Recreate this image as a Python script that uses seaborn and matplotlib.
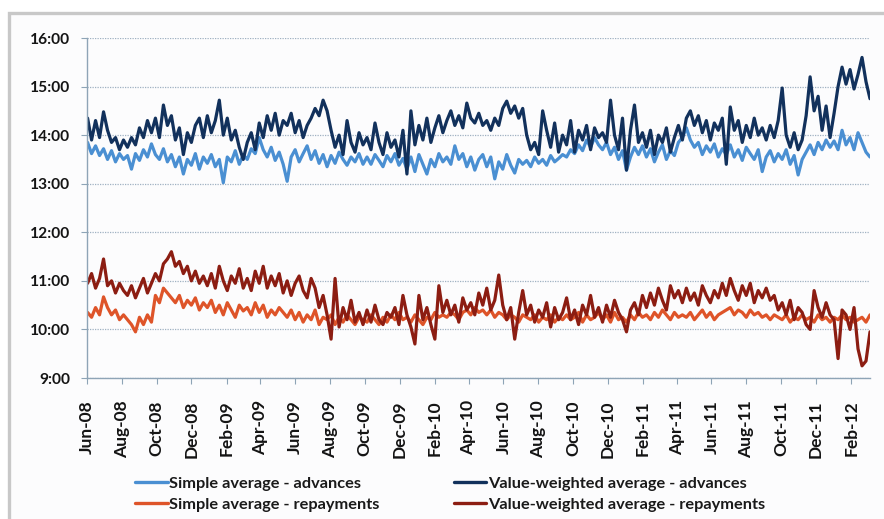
import pandas as pd
import seaborn as sns
import matplotlib.pyplot as plt
import matplotlib.dates as mdates
from matplotlib.patches import Rectangle
from matplotlib.ticker import FuncFormatter

# Weekly readings (hours of the day), Jun-08 .. Mar-12
simple_adv = [
    13.85, 13.62, 13.78, 13.58, 13.72, 13.50, 13.68, 13.45, 13.62, 13.50,
    13.58, 13.30, 13.62, 13.48, 13.70, 13.55, 13.82, 13.60, 13.50, 13.72,
    13.45, 13.60, 13.35, 13.55, 13.20, 13.50, 13.38, 13.62, 13.30, 13.55,
    13.42, 13.60, 13.35, 13.50, 13.02, 13.55, 13.45, 13.68, 13.40, 13.60,
    13.50, 13.72, 13.62, 13.95, 13.70, 13.55, 13.75, 13.48, 13.65, 13.40,
    13.05, 13.55, 13.70, 13.45, 13.62, 13.78, 13.50, 13.68, 13.42, 13.60,
    13.35, 13.58, 13.42, 13.65, 13.50, 13.38, 13.55, 13.45, 13.62, 13.40,
    13.55, 13.40, 13.60, 13.48, 13.35, 13.58, 13.45, 13.62, 13.38, 13.52,
    13.30, 13.55, 13.25, 13.60, 13.40, 13.20, 13.50, 13.35, 13.62, 13.45,
    13.55, 13.40, 13.78, 13.50, 13.62, 13.35, 13.55, 13.28, 13.50, 13.60,
    13.35, 13.55, 13.10, 13.45, 13.30, 13.60, 13.38, 13.22, 13.50, 13.40,
    13.48, 13.35, 13.55, 13.42, 13.50, 13.38, 13.58, 13.45, 13.52, 13.60,
    13.55, 13.70, 13.62, 13.80, 13.68, 13.90, 13.75, 13.95, 13.80, 13.70,
    13.85, 13.60, 13.75, 13.50, 13.68, 13.28, 13.55, 13.75, 13.60, 13.78,
    13.55, 13.72, 13.45, 13.65, 13.80, 13.50, 13.68, 13.58, 13.85, 13.95,
    14.15, 13.90, 13.75, 13.85, 13.60, 13.78, 13.65, 13.82, 13.55, 13.72,
    13.60, 13.80, 13.55, 13.70, 13.48, 13.75, 13.62, 13.50, 13.70, 13.25,
    13.55, 13.68, 13.45, 13.62, 13.50, 13.70, 13.40, 13.58, 13.18, 13.50,
    13.65, 13.80, 13.60, 13.85, 13.70, 13.90, 13.75, 13.88, 13.70, 14.10,
    13.80, 13.95, 13.70, 14.05, 13.85, 13.65, 13.55,
]
vw_adv = [
    14.35, 13.90, 14.30, 13.95, 14.48, 14.10, 13.85, 13.95, 13.70, 13.90,
    13.75, 13.95, 13.80, 14.15, 13.95, 14.30, 14.05, 14.35, 13.95, 14.62,
    14.20, 14.40, 13.90, 14.15, 13.60, 14.05, 13.85, 14.20, 14.35, 13.95,
    14.40, 14.05, 14.30, 14.72, 14.00, 14.35, 13.90, 14.10, 13.75, 13.50,
    13.85, 14.05, 13.70, 14.25, 13.95, 14.40, 14.10, 14.45, 14.00, 14.30,
    14.20, 14.45, 14.05, 14.30, 13.95, 14.20, 14.35, 14.55, 14.40, 14.72,
    14.50, 14.10, 13.75, 14.00, 13.60, 14.30, 13.85, 13.65, 14.05, 13.80,
    13.95, 13.70, 14.25, 13.85, 13.60, 14.05, 13.75, 13.90, 13.55, 14.10,
    13.20, 14.50, 13.80, 14.20, 13.90, 14.35, 13.85, 14.15, 14.40, 14.05,
    14.30, 14.50, 14.20, 14.40, 14.15, 14.66, 14.35, 14.25, 14.45, 14.20,
    14.30, 14.10, 14.35, 14.20, 14.55, 14.70, 14.45, 14.60, 14.35, 14.55,
    14.00, 13.70, 13.85, 13.60, 14.50, 14.10, 13.75, 14.25, 13.65, 14.00,
    13.80, 14.30, 13.65, 14.10, 13.90, 14.20, 13.70, 14.15, 13.95, 14.05,
    13.85, 14.72, 14.00, 13.70, 14.35, 13.28, 14.10, 14.62, 13.85, 14.05,
    13.75, 14.10, 13.60, 14.00, 13.85, 14.15, 13.65, 13.95, 14.20, 13.90,
    14.35, 14.50, 14.20, 14.40, 14.05, 14.30, 13.90, 14.25, 14.10, 14.35,
    13.40, 14.58, 14.10, 14.30, 13.85, 14.20, 13.95, 14.35, 14.00, 14.15,
    13.90, 14.20, 13.95, 14.30, 14.97, 14.00, 13.75, 14.05, 13.70, 13.90,
    14.40, 15.20, 14.50, 14.80, 14.10, 14.60, 13.95, 14.45, 15.00, 15.40,
    15.05, 15.35, 14.95, 15.25, 15.60, 15.10, 14.75,
]
simple_rep = [
    10.35, 10.25, 10.45, 10.30, 10.67, 10.45, 10.30, 10.40, 10.20, 10.30,
    10.20, 10.10, 9.95, 10.25, 10.10, 10.30, 10.15, 10.70, 10.55, 10.85,
    10.75, 10.65, 10.55, 10.70, 10.45, 10.60, 10.50, 10.65, 10.40, 10.55,
    10.45, 10.60, 10.35, 10.50, 10.30, 10.55, 10.40, 10.25, 10.50, 10.38,
    10.45, 10.30, 10.55, 10.35, 10.50, 10.25, 10.40, 10.30, 10.45, 10.35,
    10.25, 10.40, 10.20, 10.35, 10.15, 10.30, 10.20, 10.40, 10.10, 10.25,
    10.20, 10.30, 10.10, 10.25, 10.15, 10.30, 10.20, 10.10, 10.25, 10.20,
    10.15, 10.30, 10.20, 10.10, 10.25, 10.15, 10.30, 10.20, 10.35, 10.20,
    10.25, 10.15, 10.30, 10.20, 10.10, 10.25, 10.20, 10.35, 10.25, 10.30,
    10.25, 10.35, 10.30, 10.20, 10.35, 10.40, 10.30, 10.45, 10.35, 10.40,
    10.30, 10.40, 10.25, 10.35, 10.30, 10.20, 10.30, 10.25, 10.15, 10.30,
    10.25, 10.20, 10.30, 10.15, 10.25, 10.20, 10.30, 10.15, 10.25, 10.20,
    10.30, 10.20, 10.25, 10.35, 10.15, 10.30, 10.20, 10.25, 10.35, 10.20,
    10.30, 10.15, 10.35, 10.20, 10.25, 10.15, 10.30, 10.20, 10.35, 10.25,
    10.30, 10.20, 10.35, 10.25, 10.40, 10.30, 10.20, 10.35, 10.25, 10.30,
    10.25, 10.35, 10.20, 10.30, 10.40, 10.25, 10.35, 10.20, 10.30, 10.35,
    10.40, 10.45, 10.30, 10.40, 10.35, 10.25, 10.40, 10.30, 10.35, 10.25,
    10.30, 10.20, 10.30, 10.25, 10.20, 10.30, 10.15, 10.25, 10.20, 10.30,
    10.20, 10.25, 10.15, 10.30, 10.20, 10.25, 10.15, 10.25, 10.20, 10.30,
    10.20, 10.25, 10.15, 10.20, 10.25, 10.15, 10.30,
]
vw_rep = [
    10.95, 11.15, 10.85, 11.05, 11.45, 10.90, 11.00, 10.75, 10.95, 10.80,
    10.70, 10.90, 10.65, 10.85, 11.05, 10.75, 10.95, 11.15, 11.00, 11.35,
    11.45, 11.60, 11.30, 11.40, 11.15, 11.30, 11.00, 11.20, 10.95, 11.10,
    10.90, 11.15, 10.85, 11.30, 11.00, 10.80, 11.10, 10.95, 11.25, 10.85,
    11.05, 10.80, 11.20, 10.95, 11.30, 10.85, 11.10, 10.90, 11.15, 10.75,
    11.00, 10.70, 10.95, 11.10, 10.80, 10.65, 11.05, 10.85, 10.45, 10.70,
    10.30, 9.80, 11.05, 10.05, 10.45, 10.20, 10.60, 10.15, 10.35, 10.10,
    10.40, 10.15, 10.50, 10.20, 10.10, 10.35, 10.25, 10.45, 10.10, 10.70,
    10.30, 10.05, 9.70, 10.70, 10.20, 10.45, 10.10, 9.80, 10.90, 10.35,
    10.60, 10.30, 10.50, 10.15, 10.65, 10.40, 10.55, 10.30, 10.75, 10.50,
    10.85, 10.40, 10.60, 11.12, 10.50, 10.20, 10.45, 9.80, 10.35, 10.80,
    10.30, 10.50, 10.15, 10.40, 10.25, 10.55, 10.05, 10.45, 10.20, 10.35,
    10.65, 10.20, 10.40, 10.10, 10.50, 10.30, 10.70, 10.25, 10.45, 10.15,
    10.50, 10.25, 10.60, 10.35, 10.20, 9.95, 10.40, 10.55, 10.30, 10.70,
    10.45, 10.75, 10.50, 10.85, 10.60, 10.40, 10.90, 10.65, 10.80, 10.55,
    10.85, 10.60, 10.75, 10.50, 10.90, 10.70, 10.55, 10.80, 10.65, 10.95,
    10.70, 11.05, 10.80, 10.60, 10.90, 10.70, 10.95, 10.55, 10.80, 10.65,
    10.85, 10.60, 10.70, 10.40, 10.55, 10.30, 10.60, 10.20, 10.45, 10.35,
    10.10, 10.00, 10.80, 10.45, 10.25, 10.55, 10.30, 10.20, 9.40, 10.40,
    10.30, 10.00, 10.45, 9.60, 9.25, 9.35, 9.95,
]

series_names = [
    "Simple average - advances",
    "Value-weighted average - advances",
    "Simple average - repayments",
    "Value-weighted average - repayments",
]
colors = ["#4a8fd2", "#12315c", "#de5429", "#8c1d12"]

dates = pd.date_range("2008-06-02", periods=len(simple_adv), freq="7D")
frames = []
for name, vals in zip(series_names, [simple_adv, vw_adv, simple_rep, vw_rep]):
    frames.append(pd.DataFrame({"date": dates, "time": vals, "series": name}))
df = pd.concat(frames, ignore_index=True)

sns.set_style("white")
plt.rcParams["font.family"] = ["Lato", "DejaVu Sans"]

fig = plt.figure(figsize=(8.84, 5.19), dpi=100)
fig.patch.set_facecolor("white")
# light grey frame around the chart
fig.patches.append(Rectangle((9 / 884, -0.1), 1.2, 1 - 13 / 519 + 0.1,
                             transform=fig.transFigure, facecolor="#fcfcfd",
                             edgecolor="#c8c8c8", lw=2.4, zorder=-5))

ax = fig.add_axes([87 / 884, 1 - 378 / 519, (870 - 87) / 884, (378 - 38) / 519])
ax.set_facecolor("none")
ax.set_zorder(2)

sns.lineplot(data=df, x="date", y="time", hue="series", hue_order=series_names,
             palette=dict(zip(series_names, colors)), estimator=None,
             linewidth=2.3, ax=ax)

ax.set_ylim(9, 16)
ax.set_yticks(range(9, 17))
ax.yaxis.set_major_formatter(FuncFormatter(lambda v, p: f"{int(v)}:00"))
ax.set_xlim(pd.Timestamp("2008-06-01"), dates[-1])
ax.xaxis.set_major_locator(mdates.MonthLocator(bymonth=[2, 4, 6, 8, 10, 12]))
ax.xaxis.set_major_formatter(mdates.DateFormatter("%b-%y"))

ax.grid(axis="y", linestyle=(0, (1, 1)), color="#9fb1c2", lw=0.9)
ax.set_axisbelow(True)
for s in ["top", "right"]:
    ax.spines[s].set_visible(False)
for s in ["left", "bottom"]:
    ax.spines[s].set_color("#8ea4b6")
    ax.spines[s].set_linewidth(1.0)

ax.tick_params(axis="y", length=4, color="#8ea4b6", pad=8, labelsize=11.2,
               labelcolor="#141414", left=True)
ax.tick_params(axis="x", length=4, color="#8ea4b6", pad=12, labelsize=12.5,
               labelcolor="#141414", labelrotation=90, bottom=True)
for lab in ax.get_xticklabels() + ax.get_yticklabels():
    lab.set_fontweight("bold")
ax.set_xlabel("")
ax.set_ylabel("")

handles, labels = ax.get_legend_handles_labels()
ax.get_legend().remove()
order = [0, 2, 1, 3]
leg = fig.legend([handles[i] for i in order], [labels[i] for i in order],
                 loc="center", bbox_to_anchor=(450 / 884, 1 - 494 / 519), ncol=2,
                 frameon=False, prop={"weight": "bold", "size": 11.8},
                 handlelength=2.0, handletextpad=0.1, columnspacing=4.5,
                 labelspacing=0.42, labelcolor="#1a1a1a")
for h in leg.get_lines():
    h.set_linewidth(2.4)

fig.savefig("out.png", dpi=100)
